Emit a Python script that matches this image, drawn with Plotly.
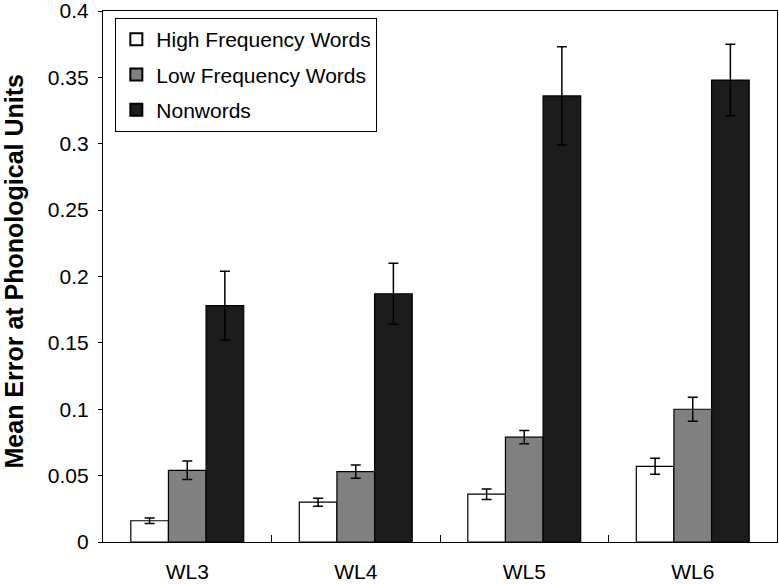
import plotly.graph_objects as go

categories = ["WL3", "WL4", "WL5", "WL6"]
series_names = ["High Frequency Words", "Low Frequency Words", "Nonwords"]
hf_values = [0.016, 0.030, 0.036, 0.057]
hf_errors = [0.002, 0.003, 0.004, 0.006]
lf_values = [0.054, 0.053, 0.079, 0.100]
lf_errors = [0.007, 0.005, 0.005, 0.009]
nw_values = [0.178, 0.187, 0.336, 0.348]
nw_errors = [0.026, 0.023, 0.037, 0.027]
y_ticks = [0, 0.05, 0.1, 0.15, 0.2, 0.25, 0.3, 0.35, 0.4]

colors = ["#ffffff", "#808080", "#1c1c1c"]
values = [hf_values, lf_values, nw_values]
errors = [hf_errors, lf_errors, nw_errors]

FONT = "Liberation Sans, Arial, Helvetica, sans-serif"

fig = go.Figure()
for i, (name, vals, errs, col) in enumerate(zip(series_names, values, errors, colors)):
    fig.add_trace(go.Bar(
        name=name, x=categories, y=vals, legendgroup="g%d" % i,
        marker=dict(color=col, line=dict(color="black", width=1.2)),
        error_y=dict(type="data", array=errs, visible=True,
                     color="black", thickness=1.5, width=5),
    ))

L, R, T, B = 103, 2, 11, 42
plot_w = 779 - L - R
plot_h = 584 - T - B

fig.update_layout(
    width=779, height=584,
    margin=dict(l=L, r=R, t=T, b=B, autoexpand=False),
    paper_bgcolor="white", plot_bgcolor="white",
    barmode="group", bargap=0.33, bargroupgap=0,
    font=dict(family=FONT, color="black"),
    showlegend=True,
    legend=dict(
        x=0.018, y=0.987, xanchor="left", yanchor="top",
        bgcolor="white", bordercolor="black", borderwidth=1.2,
        font=dict(size=21, family=FONT, color="black"),
        itemsizing="constant", tracegroupgap=5,
    ),
    xaxis=dict(
        automargin=False,
        showline=True, linecolor="black", linewidth=1.2, mirror=True,
        ticks="inside", tickson="boundaries", ticklen=7, tickcolor="black",
        tickfont=dict(size=21, family=FONT, color="black"),
        ticklabelstandoff=11, ticklabeloverflow="allow",
        showgrid=False, zeroline=False,
    ),
    yaxis=dict(
        automargin=False,
        range=[0, 0.4], tickvals=y_ticks,
        ticktext=[("%g" % v) for v in y_ticks],
        showline=True, linecolor="black", linewidth=1.2, mirror=True,
        ticks="outside", ticklen=4, tickcolor="black",
        tickfont=dict(size=21, family=FONT, color="black"),
        ticklabelstandoff=5, ticklabeloverflow="allow",
        showgrid=False, zeroline=False,
    ),
    annotations=[dict(
        text="<b>Mean Error at Phonological Units</b>",
        xref="paper", yref="paper",
        x=-(L - 13.5) / plot_w, y=(542 - T - 260) / plot_h,
        xanchor="center", yanchor="middle",
        textangle=-90, showarrow=False,
        font=dict(size=25, family=FONT, color="black"),
    )],
)

fig.write_html("out.html",
               config={"displayModeBar": False},
               post_script="document.body.style.margin='0';document.body.style.padding='0';")
